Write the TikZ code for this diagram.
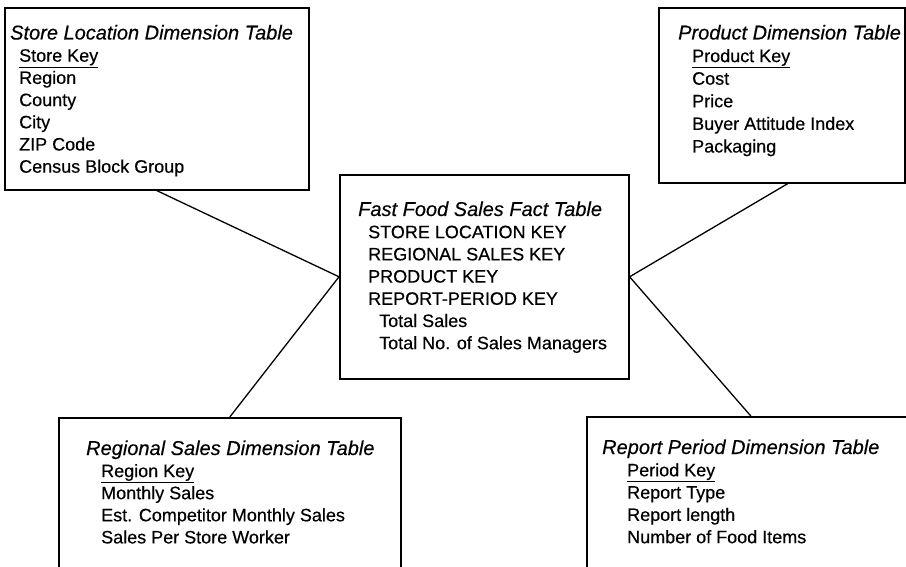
\documentclass[tikz,border=0pt]{standalone}
\usepackage{fontspec}
\setmainfont{Liberation Sans}[FakeBold=0.4,AutoFakeBold=0.4]
\newfontfamily\heavyfont{Liberation Sans}[FakeBold=0.4]
\begin{document}
\begin{tikzpicture}[x=1pt,y=-1pt,
  tbl/.style={draw=black,line width=1.6pt,rectangle,inner sep=0pt,anchor=north west,fill=white},
  conn/.style={draw=black,line width=1.3pt},
  ttl/.style={anchor=base west,inner sep=0pt,font=\fontsize{20}{22}\selectfont\itshape},
  row/.style={anchor=base west,inner sep=0pt,font=\fontsize{18}{21}\selectfont\heavyfont}]
\path[use as bounding box] (0,0) rectangle (906,567);
\clip (0,0) rectangle (906,567);
\fill[white] (0,0) rectangle (906,567);

% boxes
\node[tbl,minimum width=304pt,minimum height=182pt] (store) at (4,7) {};
\node[tbl,minimum width=246pt,minimum height=175pt] (product) at (658,7) {};
\node[tbl,minimum width=289pt,minimum height=204pt] (fact) at (339,174) {};
\node[tbl,minimum width=342pt,minimum height=180pt] (regional) at (58,417) {};
\node[tbl,minimum width=340pt,minimum height=180pt] (report) at (586,416) {};

% connectors
\coordinate (pp) at ([xshift=6pt]product.south);
\coordinate (rp) at ([xshift=-6pt]report.north);
\draw[conn] (store.south) -- (fact.west);
\draw[conn] (regional.north) -- (fact.west);
\draw[conn] (pp) -- (fact.east);
\draw[conn] (rp) -- (fact.east);

% store location
\node[ttl] (s0) at (10,39.5) {Store Location Dimension Table};
\node[row] (s1) at (19,61.7) {\underline{Store Key}};
\node[row] (s2) at (19,83.9) {Region};
\node[row] (s3) at (19,106.1) {County};
\node[row] (s4) at (19,128.3) {City};
\node[row] (s5) at (19,150.5) {ZIP Code};
\node[row] (s6) at (19,172.7) {Census Block Group};

% product
\node[ttl] (p0) at (678,39.5) {Product Dimension Table};
\node[row] (p1) at (692,62.1) {\underline{Product Key}};
\node[row] (p2) at (692,84.7) {Cost};
\node[row] (p3) at (692,107.3) {Price};
\node[row] (p4) at (692,129.9) {Buyer Attitude Index};
\node[row] (p5) at (692,152.5) {Packaging};

% fact
\node[ttl] (f0) at (358,216) {Fast Food Sales Fact Table};
\node[row] (f1) at (368,238.2) {STORE LOCATION KEY};
\node[row] (f2) at (368,260.4) {REGIONAL SALES KEY};
\node[row] (f3) at (368,282.6) {PRODUCT KEY};
\node[row] (f4) at (368,304.8) {REPORT-PERIOD KEY};
\node[row] (f5) at (379,327) {Total Sales};
\node[row] (f6) at (379,349.2) {Total No. of Sales Managers};

% regional
\node[ttl] (g0) at (86,455) {Regional Sales Dimension Table};
\node[row] (g1) at (101,477.1) {\underline{Region Key}};
\node[row] (g2) at (101,499.2) {Monthly Sales};
\node[row] (g3) at (101,521.3) {Est. Competitor Monthly Sales};
\node[row] (g4) at (101,543.4) {Sales Per Store Worker};

% report
\node[ttl] (r0) at (602,454) {Report Period Dimension Table};
\node[row] (r1) at (627,476.3) {\underline{Period Key}};
\node[row] (r2) at (627,498.6) {Report Type};
\node[row] (r3) at (627,520.9) {Report length};
\node[row] (r4) at (627,543.2) {Number of Food Items};
\end{tikzpicture}
\end{document}
